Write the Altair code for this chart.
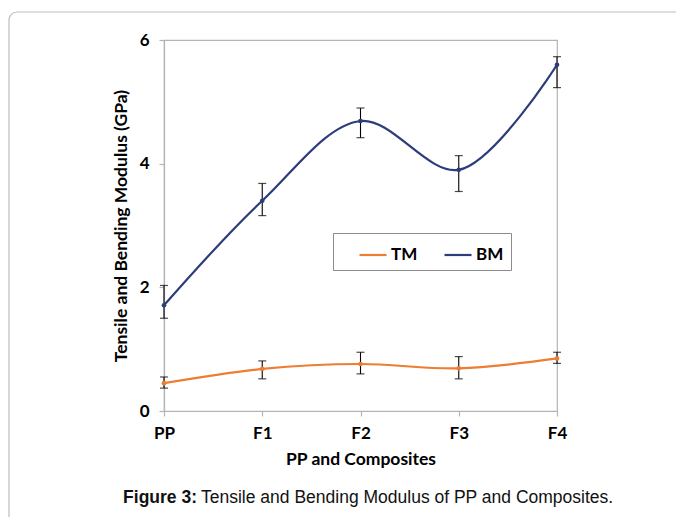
import altair as alt
import pandas as pd

categories = ["PP", "F1", "F2", "F3", "F4"]
series_names = ["TM", "BM"]
tm_values = [0.45, 0.68, 0.76, 0.69, 0.85]
tm_low = [0.37, 0.52, 0.60, 0.52, 0.77]
tm_high = [0.55, 0.81, 0.95, 0.88, 0.95]
bm_values = [1.71, 3.40, 4.69, 3.90, 5.60]
bm_low = [1.50, 3.16, 4.42, 3.55, 5.23]
bm_high = [2.03, 3.68, 4.90, 4.13, 5.73]
y_ticks = [0, 2, 4, 6]

colors = ["#ED7D31", "#2C3D7A"]

rows = []
for name, vals, lo, hi in [("TM", tm_values, tm_low, tm_high), ("BM", bm_values, bm_low, bm_high)]:
    for c, v, l, h in zip(categories, vals, lo, hi):
        rows.append({"series": name, "cat": c, "val": v, "lo": l, "hi": h})
df = pd.DataFrame(rows)

FONT = "Lato"
GRAY = "#b4b4b4"

xenc = alt.X("cat:N", sort=categories, scale=alt.Scale(type="point", padding=0),
             axis=alt.Axis(title="PP and Composites", labelAngle=0, labelPadding=9,
                           titlePadding=9))
yenc = alt.Y("val:Q", scale=alt.Scale(domain=[0, 6], nice=False),
             axis=alt.Axis(title="Tensile and Bending Modulus (GPa)", values=y_ticks,
                           format="d", grid=False, labelPadding=10, titlePadding=9))
color = alt.Color("series:N", scale=alt.Scale(domain=series_names, range=colors),
                  legend=alt.Legend(title=None, orient="none", legendX=169, legendY=193,
                                    direction="horizontal", symbolType="stroke",
                                    symbolSize=729, symbolStrokeWidth=2.2,
                                    symbolOffset=18, columnPadding=7, padding=7,
                                    labelOffset=3,
                                    labelExpr="datum.label == 'BM' ? datum.label + '      ' : datum.label",
                                    strokeColor="#8c8c8c", fillColor="white"))

base = alt.Chart(df)

frame = alt.Chart(alt.Data(values=[{}])).mark_rect(
    fill=None, stroke="#bdbdbd", strokeWidth=1.2, cornerRadius=8
).encode(x=alt.value(-155), x2=alt.value(560), y=alt.value(-28), y2=alt.value(520))

lines = base.mark_line(interpolate="catmull-rom", strokeWidth=2.2).encode(
    x=xenc, y=yenc, color=color)

err = base.mark_rule(color="black", strokeWidth=1.1).encode(
    x=alt.X("cat:N", sort=categories), y="lo:Q", y2="hi:Q")
cap_lo = base.mark_tick(color="black", size=8, thickness=1.2).encode(
    x=alt.X("cat:N", sort=categories), y="lo:Q")
cap_hi = base.mark_tick(color="black", size=8, thickness=1.2).encode(
    x=alt.X("cat:N", sort=categories), y="hi:Q")

points = base.mark_circle(size=22, opacity=1).encode(
    x=alt.X("cat:N", sort=categories), y="val:Q",
    color=alt.Color("series:N", scale=alt.Scale(domain=series_names, range=colors), legend=None))

cap_data = alt.Chart(alt.Data(values=[{}]))
cap_bold = cap_data.mark_text(text="Figure 3:", font="Liberation Sans", fontSize=17.5,
                              fontWeight="bold", align="right", baseline="middle",
                              color="#111").encode(x=alt.value(33), y=alt.value(458))
cap_rest = cap_data.mark_text(text="Tensile and Bending Modulus of PP and Composites.",
                              font="Liberation Sans", fontSize=17.5, align="left",
                              baseline="middle", color="#111").encode(
    x=alt.value(37), y=alt.value(458))

chart = alt.layer(frame, lines, err, cap_lo, cap_hi, points, cap_bold, cap_rest).properties(
    width=393, height=371,
    autosize=alt.AutoSizeParams(type="none"),
    padding={"left": 164, "top": 40, "right": 119, "bottom": 106},
    background="white",
).configure_view(stroke=GRAY, strokeWidth=1.2).configure_axis(
    labelFont=FONT, labelFontSize=17, labelFontWeight="bold", labelColor="black",
    titleFont=FONT, titleFontSize=17.5, titleFontWeight="bold", titleColor="black",
    domainColor=GRAY, domainWidth=1.2, tickColor=GRAY, tickSize=5, tickWidth=1.2,
).configure_legend(
    labelFont=FONT, labelFontSize=17, labelFontWeight="bold", labelColor="black",
)

chart.save("out.html", embed_options={"renderer": "svg", "actions": False})
